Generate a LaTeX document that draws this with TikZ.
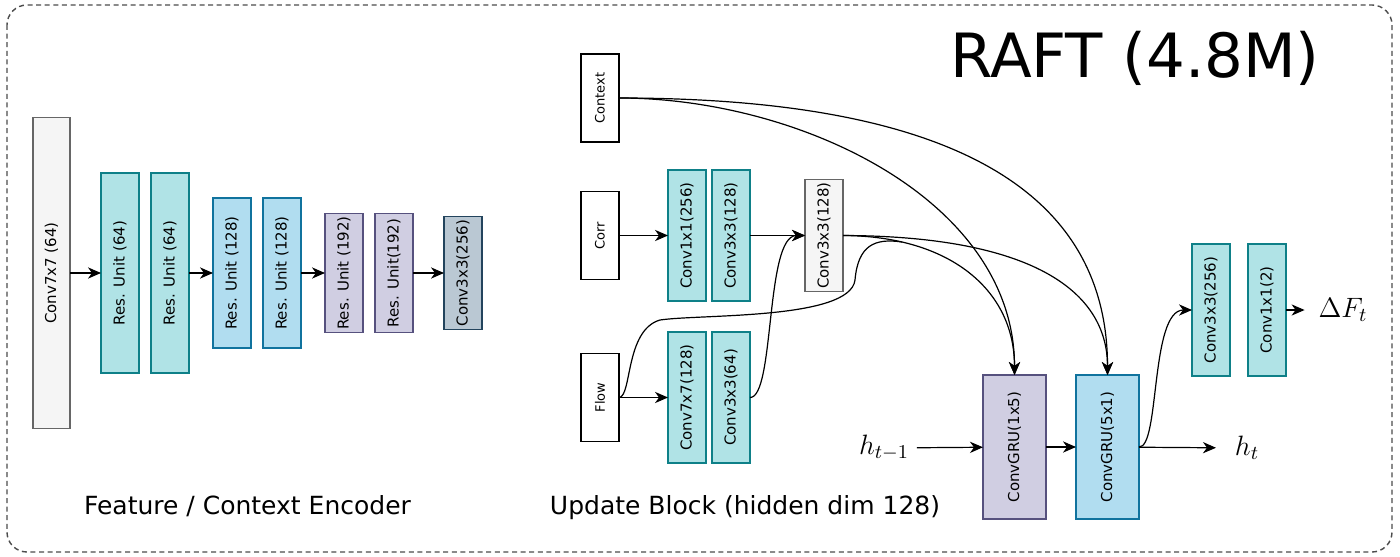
\RequirePackage{fix-cm}
\documentclass[tikz,border=0pt]{standalone}
\usepackage{fontspec}
\setmainfont{DejaVu Sans}
\usepackage{graphicx}
\usetikzlibrary{arrows.meta}

\definecolor{greyfill}{HTML}{F5F5F5}
\definecolor{greyline}{HTML}{666666}
\definecolor{tealfill}{HTML}{B0E3E6}
\definecolor{tealline}{HTML}{0E8088}
\definecolor{bluefill}{HTML}{B1DDF0}
\definecolor{blueline}{HTML}{10739E}
\definecolor{purpfill}{HTML}{D0CEE2}
\definecolor{purpline}{HTML}{56517E}
\definecolor{slatefill}{HTML}{BAC8D3}
\definecolor{slateline}{HTML}{23445D}

\begin{document}
\begin{tikzpicture}[x=0.5pt, y=-0.5pt, outer sep=0pt]

\tikzstyle{layer}=[draw, rectangle, inner sep=0pt, line width=0.6pt, minimum width=19pt, font=\fontsize{7.5}{9}\selectfont]
\tikzstyle{grey}=[layer, fill=greyfill, draw=greyline]
\tikzstyle{teal}=[layer, fill=tealfill, draw=tealline]
\tikzstyle{blue}=[layer, fill=bluefill, draw=blueline]
\tikzstyle{purp}=[layer, fill=purpfill, draw=purpline]
\tikzstyle{slate}=[layer, fill=slatefill, draw=slateline]
\tikzstyle{input}=[layer, fill=white, draw=black, minimum height=44pt, font=\fontsize{6.5}{8}\selectfont]
\tikzstyle{arr}=[-{Stealth[length=6.5pt,width=5.6pt,inset=2pt]}, line width=0.6pt]
\tikzstyle{caption}=[anchor=base, inner sep=0pt, font=\fontsize{12.5}{15}\selectfont]
\tikzstyle{mathlbl}=[inner ysep=0pt, font=\fontsize{14}{16}\selectfont]

\useasboundingbox (0,0) rectangle (1400,556);
\draw[black!70, line width=0.7pt, dash pattern=on 2.5pt off 1.8pt, rounded corners=10pt] (7,5) rectangle (1392,552);

% encoder
\node[grey, minimum width=18.5pt, minimum height=155.5pt] (c7) at (51.5,273) {\rotatebox{90}{Conv7x7 (64)}};
\node[teal, minimum height=100pt] (ru1) at (120,273) {\rotatebox{90}{Res. Unit (64)}}; \node[teal, minimum height=100pt] (ru2) at (170,273) {\rotatebox{90}{Res. Unit (64)}};
\node[blue, minimum height=75pt] (ru3) at (232,273) {\rotatebox{90}{Res. Unit (128)}}; \node[blue, minimum height=75pt] (ru4) at (282,273) {\rotatebox{90}{Res. Unit (128)}};
\node[purp, minimum height=59.5pt] (ru5) at (344,273) {\rotatebox{90}{Res. Unit (192)}}; \node[purp, minimum height=59.5pt] (ru6) at (394,273) {\rotatebox{90}{Res. Unit(192)}};
\node[slate, minimum height=56.5pt] (c3l) at (463,273) {\rotatebox{90}{Conv3x3(256)}};

\draw[arr] (c7) -- (ru1); \draw[arr] (ru2) -- (ru3); \draw[arr] (ru4) -- (ru5); \draw[arr] (ru6) -- (c3l);

\node[caption] (enc) at (247.5,514) {Feature / Context Encoder};

% update block
\node[input] (ctx) at (600,98) {\rotatebox{90}{Context}};
\node[input] (corr) at (600,235.5) {\rotatebox{90}{Corr}};
\node[input] (flow) at (600,397.5) {\rotatebox{90}{Flow}};

\node[teal, minimum height=65.5pt] (c1) at (687,235.5) {\rotatebox{90}{Conv1x1(256)}}; \node[teal, minimum height=65.5pt] (c2) at (731,235.5) {\rotatebox{90}{Conv3x3(128)}};
\node[teal, minimum height=65.5pt] (c77) at (687,397.5) {\rotatebox{90}{Conv7x7(128)}}; \node[teal, minimum height=65.5pt] (c33) at (731,397.5) {\rotatebox{90}{Conv3x3(64)}};
\node[grey, minimum height=56pt] (cg) at (824,235.5) {\rotatebox{90}{Conv3x3(128)}};

\node[purp, minimum width=31.5pt, minimum height=72pt] (gru1) at (1014.5,447) {\rotatebox{90}{ConvGRU(1x5)}};
\node[blue, minimum width=31.5pt, minimum height=72pt] (gru2) at (1107.5,447) {\rotatebox{90}{ConvGRU(5x1)}};
\node[teal, minimum height=66pt] (o1) at (1211,310) {\rotatebox{90}{Conv3x3(256)}}; \node[teal, minimum height=66pt] (o2) at (1267,310) {\rotatebox{90}{Conv1x1(2)}};

\node[mathlbl, inner xsep=4pt] (htm1) at (884,448) {$h_{t-1}$};
\node[mathlbl, inner xsep=9.5pt] (ht) at (1247,448) {$h_t$};
\node[mathlbl, inner xsep=7pt] (dF) at (1343,310) {$\Delta F_t$};
\coordinate (join) at (902,242);

\draw[arr] (corr) -- (c1); \draw[arr] (flow) -- (c77); \draw[arr] (c2) -- (cg);
\draw[arr] (c33.east) .. controls (775,397.5) and (765,235.5) .. (cg.west);
\draw[arr] (ctx.east) .. controls (800,98) and (1014.5,200) .. (gru1.north);
\draw[arr] (ctx.east) .. controls (950,98) and (1107.5,190) .. (gru2.north);
\draw[arr] (cg.east) .. controls (950,236) and (1014.5,290) .. (gru1.north);
\draw[arr] (cg.east) .. controls (1030,236) and (1107.5,290) .. (gru2.north);
\draw[line width=0.6pt] (flow.east) .. controls (632,397) and (625,330) .. (660,320) .. controls (700,314) and (850,320) .. (855,280) .. controls (858,245) and (875,238) .. (join);

\draw[arr] (htm1) -- (gru1); \draw[arr] (gru1) -- (gru2); \draw[arr] (gru2) -- (ht);
\draw[arr] (gru2.east) .. controls (1160,448) and (1150,310) .. (o1.west);
\draw[arr] (o2) -- (dF);

\node[caption] (upd) at (745,514) {Update Block (hidden dim 128)};
\node[caption, font=\fontsize{30.5}{36}\selectfont] (title) at (1135,78) {RAFT (4.8M)};

\end{tikzpicture}
\end{document}
